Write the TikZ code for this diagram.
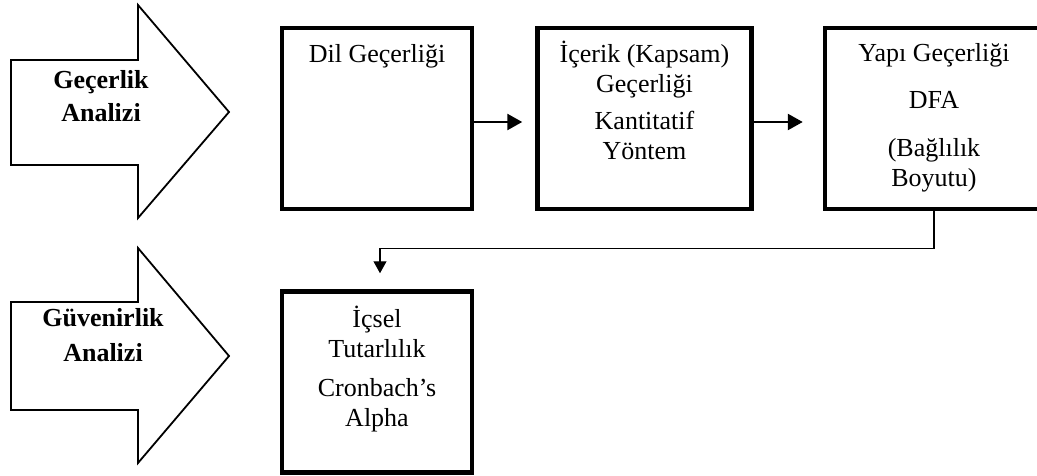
\documentclass[tikz,border=0pt]{standalone}
\usepackage{fontspec}
\setmainfont{Liberation Serif}
\usetikzlibrary{positioning,arrows.meta}

\newcommand{\topstrut}{\rule{0pt}{25pt}}

\tikzset{
  stage/.style={draw, line width=4.5pt, minimum width=190pt, minimum height=181pt, inner sep=0pt},
  wide/.style={minimum width=214pt},
  stagetext/.style={anchor=north, align=center, inner sep=0pt, font=\fontsize{26}{30}\selectfont},
  phase/.style={draw, line width=1.8pt, line join=miter},
  phasetext/.style={anchor=north, align=center, inner sep=0pt, font=\fontsize{26}{30}\selectfont\bfseries},
  flow/.style={line width=2.6pt, -{Triangle[length=15pt,width=16pt]}},
  link/.style={line width=1.2pt, -{Triangle[length=12pt,width=13pt]}},
}

\begin{document}
\begin{tikzpicture}[x=1pt,y=-1pt]
  \useasboundingbox (0,0) rectangle (1037,476);

  % big arrows on the left
  \draw[phase] (11,60) -- (138,60) -- (138,5) -- (229,112) -- (138,218) -- (138,165) -- (11,165) -- cycle;
  \draw[phase] (11,302) -- (138,302) -- (138,248) -- (229,356) -- (138,463) -- (138,410) -- (11,410) -- cycle;
  \node[phasetext] (gecerlik) at (101,63) {\topstrut Geçerlik\\[3pt] Analizi};
  \node[phasetext] (guvenirlik) at (103,301) {\topstrut Güvenirlik\\[5pt] Analizi};

  % boxes
  \node[stage] (dil) at (377,118.5) {};
  \node[stage,wide,right=61pt of dil] (icerik) {};
  \node[stage,wide,minimum width=218pt,right=69pt of icerik] (yapi) {};
  \node[stage,below=78pt of dil] (icsel) {};

  \node[stagetext,below=12pt of dil.north] (dilt) {\topstrut Dil Geçerliği};
  \node[stagetext,below=12pt of icerik.north] (icerikt) {\topstrut İçerik (Kapsam)\\ Geçerliği\\[7pt] Kantitatif\\ Yöntem};
  \node[stagetext,below=11pt of yapi.north] (yapit) {\topstrut Yapı Geçerliği\\[17pt] DFA\\[18pt] (Bağlılık\\ Boyutu)};
  \node[stagetext,below=13pt of icsel.north] (icselt) {\topstrut İçsel\\ Tutarlılık\\[9pt] Cronbach’s\\ Alpha};

  % connectors
  \draw[flow,shorten >=13pt] ([yshift=-3.5pt]dil.east) -- ([yshift=-3.5pt]icerik.west);
  \draw[flow,shorten >=20pt] ([yshift=-3.5pt]icerik.east) -- ([yshift=-3.5pt]yapi.west);
  \draw[link,shorten >=16pt] (yapi.south) -- ++(0,37) -| ([xshift=3pt]icsel.north);
\end{tikzpicture}
\end{document}
